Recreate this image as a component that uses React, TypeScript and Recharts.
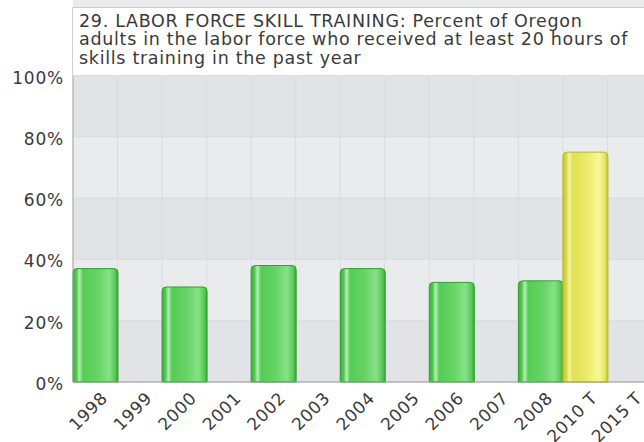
import React from 'react'
import { BarChart, Bar, XAxis, YAxis, CartesianGrid, Cell } from 'recharts'

// Oregon benchmark 29: labor force skill training (percent)
const years = ['1998', '1999', '2000', '2001', '2002', '2003', '2004', '2005', '2006', '2007', '2008', '2010 T', '2015 T']
const percents: (number | null)[] = [37, null, 31, null, 38, null, 37, null, 32.5, null, 33, 75, null]
const isTarget = [false, false, false, false, false, false, false, false, false, false, false, true, true]
const yTicks = [0, 20, 40, 60, 80, 100]
const titleLines = [
  '29. LABOR FORCE SKILL TRAINING: Percent of Oregon',
  'adults in the labor force who received at least 20 hours of',
  'skills training in the past year',
]

const FONT = '"DejaVu Sans", Verdana, sans-serif'
const TEXT = '#3a3a3a'

const chartData = years.map((year, i) => ({ year, value: percents[i], target: isTarget[i] }))

function YTick({ x, y, payload }: any) {
  return (
    <text
      x={x}
      y={y + 2}
      textAnchor="end"
      dominantBaseline="central"
      fill={TEXT}
      fontSize={17}
      letterSpacing={0.8}
      fontFamily={FONT}
    >
      {payload.value}%
    </text>
  )
}

function XTick({ x, y, payload }: any) {
  return (
    <text
      x={x + 9}
      y={y + 5}
      transform={`rotate(-45, ${x + 9}, ${y + 5})`}
      textAnchor="end"
      dominantBaseline="central"
      fill={TEXT}
      fontSize={17}
      letterSpacing={0.6}
      fontFamily={FONT}
    >
      {payload.value}
    </text>
  )
}

export default function App() {
  return (
    <div style={{ position: 'relative', width: 644, height: 442, overflow: 'hidden', background: '#fff' }}>
      <style>{'body{margin:0}'}</style>
      <BarChart
        width={652}
        height={442}
        data={chartData}
        margin={{ top: 75.5, right: 0, bottom: 0, left: 0 }}
        barCategoryGap={0}
      >
        <defs>
          <linearGradient id="greenBar" x1="0" y1="0" x2="1" y2="0">
            <stop offset="0%" stopColor="#36b036" />
            <stop offset="8%" stopColor="#58c858" />
            <stop offset="14%" stopColor="#b4eeb4" />
            <stop offset="22%" stopColor="#55cc55" />
            <stop offset="55%" stopColor="#66d466" />
            <stop offset="80%" stopColor="#86e286" />
            <stop offset="93%" stopColor="#5cca5c" />
            <stop offset="100%" stopColor="#34a834" />
          </linearGradient>
          <linearGradient id="yellowBar" x1="0" y1="0" x2="1" y2="0">
            <stop offset="0%" stopColor="#c4c42c" />
            <stop offset="8%" stopColor="#dada48" />
            <stop offset="14%" stopColor="#f4f4a8" />
            <stop offset="22%" stopColor="#e0e050" />
            <stop offset="55%" stopColor="#ecec6c" />
            <stop offset="80%" stopColor="#f8f896" />
            <stop offset="93%" stopColor="#e6e664" />
            <stop offset="100%" stopColor="#c2c22c" />
          </linearGradient>
        </defs>
        <CartesianGrid
          stroke="#d9dcdf"
          horizontalFill={['#e9ebed', '#e1e3e6']}
          fillOpacity={1}
          verticalCoordinatesGenerator={({ offset }: any) =>
            years.map((_, i) => offset.left + (i * offset.width) / years.length)
          }
        />
        <XAxis
          dataKey="year"
          interval={0}
          height={60}
          tickLine={false}
          axisLine={{ stroke: '#9a9a9a' }}
          tick={<XTick />}
        />
        <YAxis
          domain={[0, 100]}
          ticks={yTicks}
          width={73}
          tickLine={false}
          tickSize={6}
          tickMargin={3}
          axisLine={{ stroke: '#a8a8a8' }}
          tick={<YTick />}
        />
        <Bar dataKey="value" radius={[4, 4, 0, 0]} isAnimationActive={false}>
          {chartData.map((d) => (
            <Cell
              key={d.year}
              fill={d.target ? 'url(#yellowBar)' : 'url(#greenBar)'}
              stroke={d.target ? '#b8b82a' : '#30a030'}
              strokeWidth={1}
            />
          ))}
        </Bar>
      </BarChart>
      <div
        style={{
          position: 'absolute',
          left: 72,
          top: 6.5,
          width: 640,
          height: 68,
          border: '1px solid #cfcfcf',
          borderBottom: 'none',
          background: '#fff',
          boxSizing: 'border-box',
          padding: '4px 0 0 6px',
          fontFamily: FONT,
          fontSize: 17.5,
          letterSpacing: '0.7px',
          lineHeight: '18.5px',
          color: TEXT,
          whiteSpace: 'nowrap',
        }}
      >
        {titleLines.map((line) => (
          <div key={line}>{line}</div>
        ))}
      </div>
    </div>
  )
}
